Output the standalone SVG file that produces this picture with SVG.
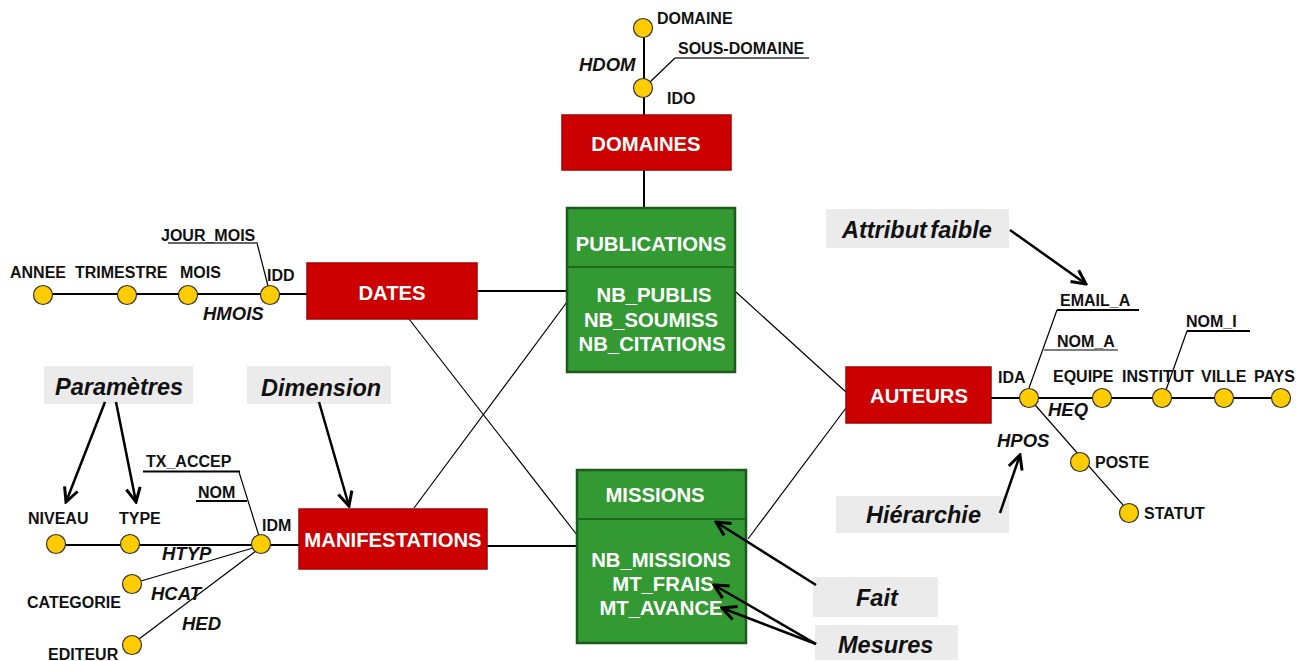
<svg xmlns="http://www.w3.org/2000/svg" width="1312" height="661" viewBox="0 0 1312 661">
<style>
.lbl{font-family:"Liberation Sans",Arial,sans-serif;font-weight:bold;font-size:16px;fill:#111}
.hl{font-family:"Liberation Sans",Arial,sans-serif;font-weight:bold;font-style:italic;font-size:18.5px;fill:#111}
.nt{font-family:"Liberation Sans",Arial,sans-serif;font-weight:bold;font-size:20.3px;fill:#fff;text-anchor:middle}
.an{font-family:"Liberation Sans",Arial,sans-serif;font-weight:bold;font-style:italic;font-size:23.5px;fill:#111}
.dim{fill:#cc0000;stroke:#a80000;stroke-width:1.5}
.fact{fill:#339933;stroke:#1d5a1d;stroke-width:2.5}
.att{fill:#ffcc00;stroke:#333;stroke-width:1.2}
.gbox{fill:#ebebeb}
.thick{stroke:#000;stroke-width:2;fill:none}
.thin{stroke:#000;stroke-width:1.2;fill:none}
.ul{stroke:#000;stroke-width:2;fill:none}
.ulg{stroke:#666;stroke-width:2;fill:none}
.arr{stroke:#000;stroke-width:2.5;fill:none;marker-end:url(#ah)}
</style>
<defs>
<marker id="ah" markerUnits="userSpaceOnUse" markerWidth="20" markerHeight="20" viewBox="0 0 20 20" refX="18" refY="10" orient="auto">
<path d="M4,3 L18,10 L4,17" fill="none" stroke="#000" stroke-width="3"/>
</marker>
</defs>
<rect width="1312" height="661" fill="#fff"/>

<g id="connectors">
<line class="thick" x1="644" y1="28" x2="644" y2="115"/>
<line class="thick" x1="644" y1="170" x2="644" y2="208"/>
<line class="thin" x1="675" y1="58" x2="650" y2="82"/>
<line class="thick" x1="42" y1="294" x2="307" y2="294"/>
<line class="thick" x1="477" y1="291" x2="567" y2="291"/>
<line class="thin" x1="257" y1="243" x2="268" y2="286"/>
<line class="thick" x1="55" y1="545" x2="299" y2="545"/>
<line class="thick" x1="487" y1="546" x2="577" y2="546"/>
<line class="thin" x1="239" y1="472" x2="259" y2="536"/>
<line class="thin" x1="253" y1="548" x2="141" y2="581"/>
<line class="thin" x1="256" y1="551" x2="139" y2="639"/>
<line class="thin" x1="409" y1="319" x2="577" y2="535"/>
<line class="thin" x1="414" y1="508" x2="567" y2="302"/>
<line class="thin" x1="736" y1="292" x2="846" y2="392"/>
<line class="thin" x1="846" y1="408" x2="748" y2="539"/>
<line class="thick" x1="991" y1="398" x2="1281" y2="398"/>
<line class="thin" x1="1029" y1="398" x2="1130" y2="513"/>
<line class="thin" x1="1057" y1="310" x2="1029" y2="388"/>
<line class="thin" x1="1187" y1="331" x2="1166" y2="390"/>
<line class="ulg" x1="675" y1="58" x2="809" y2="58"/>
<line class="ulg" x1="168" y1="243" x2="258" y2="243"/>
<line class="ul" x1="143" y1="471.5" x2="240" y2="471.5"/>
<line class="ul" x1="196" y1="501" x2="247" y2="501"/>
<line class="ul" x1="1057" y1="310" x2="1139" y2="310"/>
<line class="thin" x1="1044" y1="350" x2="1118" y2="350"/>
<line class="ul" x1="1187" y1="331" x2="1250" y2="331"/>
</g>

<g id="domaines">
<rect class="dim" x="562" y="115" width="169" height="55"/>
<text class="nt" x="646" y="150.5">DOMAINES</text>
</g>
<g id="publications">
<rect class="fact" x="567" y="208" width="168" height="164"/>
<line x1="568" y1="267" x2="734" y2="267" stroke="#1d6a1d" stroke-width="2"/>
<text class="nt" x="651" y="251">PUBLICATIONS</text>
<text class="nt" x="654" y="302">NB_PUBLIS</text>
<text class="nt" x="651" y="326.5">NB_SOUMISS</text>
<text class="nt" x="652" y="350.5">NB_CITATIONS</text>
</g>
<g id="dates">
<rect class="dim" x="307" y="263" width="170" height="56"/>
<text class="nt" x="392" y="300">DATES</text>
</g>
<g id="manifestations">
<rect class="dim" x="299" y="509" width="188" height="60"/>
<text class="nt" x="393" y="547">MANIFESTATIONS</text>
</g>
<g id="missions">
<rect class="fact" x="577" y="470" width="169" height="173"/>
<line x1="578" y1="519" x2="745" y2="519" stroke="#1d6a1d" stroke-width="2"/>
<text class="nt" x="655" y="502">MISSIONS</text>
<text class="nt" x="661" y="567">NB_MISSIONS</text>
<text class="nt" x="663" y="590.5">MT_FRAIS</text>
<text class="nt" x="661" y="615">MT_AVANCE</text>
</g>
<g id="auteurs">
<rect class="dim" x="846" y="367" width="145" height="56"/>
<text class="nt" x="919" y="403">AUTEURS</text>
</g>

<g id="attr-domaines">
<circle class="att" cx="643" cy="28" r="9.5"/>
<circle class="att" cx="643" cy="88" r="9.5"/>
<text class="lbl" x="657" y="24">DOMAINE</text>
<text class="lbl" x="678" y="54">SOUS-DOMAINE</text>
<text class="lbl" x="667" y="104">IDO</text>
<text class="hl" x="579" y="71">HDOM</text>
</g>
<g id="attr-dates">
<circle class="att" cx="43" cy="295" r="9.5"/>
<circle class="att" cx="127" cy="295" r="9.5"/>
<circle class="att" cx="188" cy="295" r="9.5"/>
<circle class="att" cx="270" cy="295" r="9.5"/>
<text class="lbl" x="10" y="278">ANNEE</text>
<text class="lbl" x="75" y="278">TRIMESTRE</text>
<text class="lbl" x="180" y="278">MOIS</text>
<text class="lbl" x="267" y="281">IDD</text>
<text class="lbl" x="161" y="241">JOUR_MOIS</text>
<text class="hl" x="203" y="320">HMOIS</text>
</g>
<g id="attr-manifestations">
<circle class="att" cx="56" cy="544" r="9.5"/>
<circle class="att" cx="130" cy="544" r="9.5"/>
<circle class="att" cx="261" cy="544" r="9.5"/>
<circle class="att" cx="132" cy="584" r="9.5"/>
<circle class="att" cx="132" cy="645" r="9.5"/>
<text class="lbl" x="28" y="524">NIVEAU</text>
<text class="lbl" x="119" y="524">TYPE</text>
<text class="lbl" x="262" y="531">IDM</text>
<text class="lbl" x="146" y="467">TX_ACCEP</text>
<text class="lbl" x="198" y="498">NOM</text>
<text class="lbl" x="27" y="608">CATEGORIE</text>
<text class="lbl" x="48" y="660">EDITEUR</text>
<text class="hl" x="162" y="560">HTYP</text>
<text class="hl" x="151" y="600">HCAT</text>
<text class="hl" x="182" y="630">HED</text>
</g>
<g id="attr-auteurs">
<circle class="att" cx="1029" cy="398" r="9.5"/>
<circle class="att" cx="1102" cy="398" r="9.5"/>
<circle class="att" cx="1162" cy="398" r="9.5"/>
<circle class="att" cx="1224" cy="398" r="9.5"/>
<circle class="att" cx="1281" cy="398" r="9.5"/>
<circle class="att" cx="1080" cy="462" r="9.5"/>
<circle class="att" cx="1129" cy="513" r="9.5"/>
<text class="lbl" x="998" y="383">IDA</text>
<text class="lbl" x="1053" y="382">EQUIPE</text>
<text class="lbl" x="1122" y="382">INSTITUT</text>
<text class="lbl" x="1201" y="382">VILLE</text>
<text class="lbl" x="1254" y="382">PAYS</text>
<text class="lbl" x="1060" y="306">EMAIL_A</text>
<text class="lbl" x="1057" y="347">NOM_A</text>
<text class="lbl" x="1186" y="327">NOM_I</text>
<text class="lbl" x="1095" y="468">POSTE</text>
<text class="lbl" x="1144" y="519">STATUT</text>
<text class="hl" x="1048" y="416">HEQ</text>
<text class="hl" x="997" y="447">HPOS</text>
</g>

<g id="note-parametres">
<rect class="gbox" x="44" y="366" width="149" height="38"/>
<text class="an" x="55" y="395">Paramètres</text>
</g>
<g id="note-dimension">
<rect class="gbox" x="247" y="366" width="144" height="38"/>
<text class="an" x="261" y="396">Dimension</text>
</g>
<g id="note-attribut">
<rect class="gbox" x="826" y="209" width="183" height="39"/>
<text class="an" x="842" y="238" word-spacing="-3">Attribut faible</text>
</g>
<g id="note-hierarchie">
<rect class="gbox" x="836" y="496" width="173" height="37"/>
<text class="an" x="866" y="523">Hiérarchie</text>
</g>
<g id="note-fait">
<rect class="gbox" x="813" y="577" width="125" height="40"/>
<text class="an" x="856" y="606">Fait</text>
</g>
<g id="note-mesures">
<rect class="gbox" x="815" y="625" width="143" height="35"/>
<text class="an" x="838" y="653">Mesures</text>
</g>

<g id="annotation-arrows">
<line class="arr" x1="105" y1="402" x2="66" y2="502"/>
<line class="arr" x1="116" y1="402" x2="136" y2="502"/>
<line class="arr" x1="319" y1="402" x2="349" y2="506"/>
<line class="arr" x1="1010" y1="230" x2="1086" y2="284"/>
<line class="arr" x1="1000" y1="513" x2="1020" y2="455"/>
<line class="arr" x1="816" y1="585" x2="716" y2="522"/>
<line class="arr" x1="816" y1="644" x2="714" y2="585"/>
<line class="arr" x1="816" y1="644" x2="722" y2="608"/>
</g>
</svg>
